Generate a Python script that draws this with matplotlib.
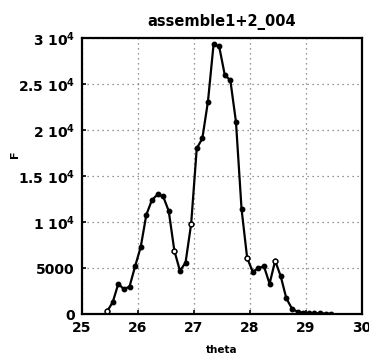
import matplotlib
matplotlib.use("Agg")
import matplotlib.pyplot as plt
import numpy as np

plt.rcParams['font.family'] = ['DejaVu Sans']
plt.rcParams['mathtext.fontset'] = 'dejavusans'

# measured curve
theta = [25.45, 25.55, 25.65, 25.75, 25.85, 25.95, 26.05, 26.15, 26.25, 26.35,
         26.45, 26.55, 26.65, 26.75, 26.85, 26.95, 27.05, 27.15, 27.25, 27.35,
         27.45, 27.55, 27.65, 27.75, 27.85, 27.95, 28.05, 28.15, 28.25, 28.35,
         28.45, 28.55, 28.65, 28.75, 28.85, 28.95, 29.05, 29.15, 29.25, 29.35,
         29.45]
F = [300, 1300, 3300, 2700, 3000, 5200, 7300, 10800, 12400, 13000,
     12800, 11200, 6900, 4700, 5600, 9800, 18000, 19100, 23100, 29300,
     29100, 26000, 25400, 20900, 11400, 6100, 4600, 5000, 5200, 3300,
     5800, 4100, 1700, 600, 250, 150, 120, 100, 80, 60,
     30]
# points drawn with open markers
open_idx = [0, 12, 15, 25, 30]

xticks = [25, 26, 27, 28, 29, 30]
yticks = [0, 5000, 10000, 15000, 20000, 25000, 30000]
ylabels = ['0', '5000', r'1 10$^{\mathbf{4}}$', r'1.5 10$^{\mathbf{4}}$',
           r'2 10$^{\mathbf{4}}$', r'2.5 10$^{\mathbf{4}}$', r'3 10$^{\mathbf{4}}$']

fig = plt.figure(figsize=(3.69, 3.59), dpi=100)
ax = fig.add_axes([0.222, 0.125, 0.759, 0.769])

ax.plot(theta, F, color='black', lw=1.6, marker='o', ms=3.2,
        mfc='black', mec='black', zorder=3)
ox = [theta[i] for i in open_idx]
oy = [F[i] for i in open_idx]
ax.plot(ox, oy, ls='none', marker='o', ms=3.4, mfc='white', mec='black',
        mew=1.0, zorder=4)

ax.set_xlim(25, 30)
ax.set_ylim(0, 30000)
ax.set_xticks(xticks)
ax.set_yticks(yticks)
ax.set_xticklabels([str(t) for t in xticks], fontsize=10, fontweight='bold')
ax.set_yticklabels(ylabels, fontsize=10, fontweight='bold')
ax.tick_params(direction='in', length=3, width=1.2, pad=5)
ax.grid(True, ls=(0, (1, 3)), color='0.45', lw=0.9)

for s in ax.spines.values():
    s.set_linewidth(1.6)

ax.set_title('assemble1+2_004', fontsize=10.5, fontweight='bold', pad=9)
ax.set_xlabel('theta', fontsize=7.5, fontweight='bold', labelpad=7)
ax.set_ylabel('F', fontsize=8, fontweight='bold')
ax.yaxis.set_label_coords(-0.22, 0.58)

fig.savefig('out.png', dpi=100)
